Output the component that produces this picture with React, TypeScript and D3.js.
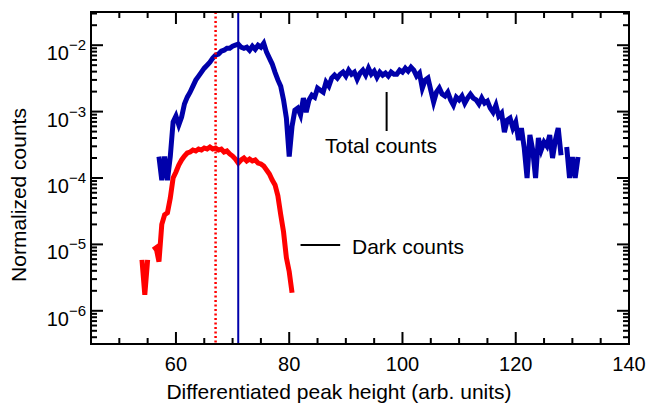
import * as d3 from "d3";

// histogram bins (arb. units), 0.5 wide
const binWidth = 0.5;
const totalStart = 57;
const darkStart = 54;

// normalized counts, null = empty bin
const totalCounts: (number | null)[] = [
  2.1e-4, 9.3e-5, 2.1e-4, 9.3e-5, 2.1e-4, 7.0e-4, 8.6e-4, 6.3e-4, 8.3e-4, 1.3e-3,
  1.65e-3, 1.96e-3, 2.42e-3, 2.98e-3, 3.42e-3, 3.93e-3, 4.51e-3, 5.0e-3, 5.55e-3, 6.38e-3,
  7.07e-3, 7.32e-3, 8.12e-3, 8.41e-3, 9.01e-3, 9.01e-3, 9.66e-3, 1.0e-2, 1.035e-2, 9.33e-3,
  9.0e-3, 9.33e-3, 8.4e-3, 9.66e-3, 8.7e-3, 1.0e-2, 9.33e-3, 1.07e-2, 7.85e-3, 6.4e-3,
  5.2e-3, 3.9e-3, 3.0e-3, 2.4e-3, 1.5e-3, 8.0e-4, 2.1e-4, 6.0e-4, 1.05e-3, 1.13e-3,
  8.9e-4, 1.6e-3, 9.8e-4, 1.5e-3, 1.77e-3, 1.65e-3, 2.26e-3, 2.1e-3, 1.96e-3, 2.78e-3,
  2.42e-3, 3.2e-3, 3.54e-3, 3.2e-3, 3.66e-3, 3.93e-3, 3.42e-3, 4.2e-3, 3.66e-3, 3.93e-3,
  3.08e-3, 3.8e-3, 4.2e-3, 3.54e-3, 4.5e-3, 3.66e-3, 4.07e-3, 3.3e-3, 3.93e-3, 3.54e-3,
  3.8e-3, 3.42e-3, 3.93e-3, 3.66e-3, 3.66e-3, 4.2e-3, 3.93e-3, 4.5e-3, 4.07e-3, 4.67e-3,
  4.2e-3, 3.42e-3, 3.8e-3, 2.26e-3, 2.98e-3, 3.2e-3, 2.1e-3, 1.39e-3, 1.96e-3, 2.26e-3,
  1.83e-3, 1.71e-3, 1.96e-3, 1.5e-3, 1.25e-3, 1.65e-3, 1.5e-3, 1.71e-3, 1.34e-3, 1.6e-3,
  1.83e-3, 1.6e-3, 1.5e-3, 1.3e-3, 1.6e-3, 1.34e-3, 1.44e-3, 1.13e-3, 9.8e-4, 1.25e-3,
  8.55e-4, 9.5e-4, 4.9e-4, 7.45e-4, 8.0e-4, 5.65e-4, 6.95e-4, 3.73e-4, 5.65e-4, 2.83e-4,
  1.0e-4, 4.44e-4, 2.64e-4, 1.0e-4, 4.0e-4, 2.64e-4, 3.48e-4, 3.03e-4, 4.44e-4, 2.0e-4,
  3.73e-4, 5.65e-4, 2.2e-4, null, 2.93e-4, 1.0e-4, 2.07e-4, 1.0e-4, 2.07e-4,
];

const darkCounts: (number | null)[] = [
  5.85e-6, 1.74e-6, 5.85e-6, null, 8.3e-6, 8.9e-6, 5.5e-6, 2.0e-5, 2.8e-5, 3.0e-5,
  5.0e-5, 1.0e-4, 1.23e-4, 1.57e-4, 1.87e-4, 2.14e-4, 2.38e-4, 2.46e-4, 2.64e-4, 2.55e-4,
  2.73e-4, 2.64e-4, 2.83e-4, 2.73e-4, 2.93e-4, 2.73e-4, 2.83e-4, 2.64e-4, 2.73e-4, 2.46e-4,
  2.55e-4, 2.3e-4, 2.14e-4, 1.93e-4, 1.68e-4, 1.87e-4, 2.0e-4, 1.8e-4, 1.93e-4, 1.8e-4,
  1.87e-4, 1.68e-4, 1.63e-4, 1.51e-4, 1.32e-4, 1.15e-4, 9.3e-5, 7.85e-5, 5.4e-5, 2.8e-5,
  1.54e-5, 6.3e-6, 3.9e-6, 1.87e-6,
];

const xMajorTicks = [60, 80, 100, 120, 140];
const yExponents = [-2, -3, -4, -5, -6];
const darkThreshold = 67; // dotted red line
const totalThreshold = 71; // solid blue line

const W = 647;
const H = 406;
const left = 91;
const right = 629;
const top = 12;
const bottom = 344;
const font = "'Liberation Sans', Arial, Helvetica, sans-serif";

export default function App() {
  const x = d3.scaleLinear().domain([45, 140]).range([left, right]);
  const y = d3.scaleLog().domain([Math.pow(10, -6.5), Math.pow(10, -1.5)]).range([bottom, top]);

  const toPoints = (vals: (number | null)[], start: number) =>
    vals.map((v, i) => ({ x: start + i * binWidth, v }));

  const line = d3
    .line<{ x: number; v: number | null }>()
    .defined((d) => d.v != null)
    .x((d) => x(d.x))
    .y((d) => y(d.v as number));

  const xMinor = d3.range(45, 141, 5).filter((t) => !xMajorTicks.includes(t));
  const yMinor: number[] = [];
  for (let e = -7; e <= -2; e++) {
    for (let m = 2; m <= 9; m++) {
      const v = m * Math.pow(10, e);
      if (v > y.domain()[0] && v < y.domain()[1]) yMinor.push(v);
    }
  }

  const ticks: JSX.Element[] = [];
  const addX = (t: number, len: number, k: string) => {
    ticks.push(<line key={"b" + k} x1={x(t)} x2={x(t)} y1={bottom} y2={bottom - len} />);
    ticks.push(<line key={"t" + k} x1={x(t)} x2={x(t)} y1={top} y2={top + len} />);
  };
  const addY = (v: number, len: number, k: string) => {
    ticks.push(<line key={"l" + k} x1={left} x2={left + len} y1={y(v)} y2={y(v)} />);
    ticks.push(<line key={"r" + k} x1={right} x2={right - len} y1={y(v)} y2={y(v)} />);
  };
  xMajorTicks.forEach((t) => addX(t, 12, "M" + t));
  xMinor.forEach((t) => addX(t, 6, "m" + t));
  yExponents.forEach((e) => addY(Math.pow(10, e), 12, "M" + e));
  yMinor.forEach((v, i) => addY(v, 6, "m" + i));

  return (
    <svg width={W} height={H} style={{ position: "absolute", left: 0, top: 0, background: "#fff" }} fontFamily={font}>
      <defs>
        <clipPath id="plot">
          <rect x={left} y={top} width={right - left} height={bottom - top} />
        </clipPath>
      </defs>
      <g clipPath="url(#plot)" fill="none">
        <path d={line(toPoints(totalCounts, totalStart)) || ""} stroke="#0000aa" strokeWidth={5} />
        <path d={line(toPoints(darkCounts, darkStart)) || ""} stroke="#ff0000" strokeWidth={5} />
        <line x1={x(darkThreshold)} x2={x(darkThreshold)} y1={top} y2={bottom} stroke="#ff0000" strokeWidth={2.5} strokeDasharray="2 2.5" />
        <line x1={x(totalThreshold)} x2={x(totalThreshold)} y1={top} y2={bottom} stroke="#0000aa" strokeWidth={2} />
      </g>
      <g stroke="#000" strokeWidth={2}>{ticks}</g>
      <rect x={left} y={top} width={right - left} height={bottom - top} fill="none" stroke="#000" strokeWidth={2} />
      {xMajorTicks.map((t) => (
        <text key={t} x={x(t)} y={371} fontSize={20} textAnchor="middle">{t}</text>
      ))}
      {yExponents.map((e) => (
        <text key={e} x={86} y={y(Math.pow(10, e)) + 15} fontSize={20} textAnchor="end">
          10<tspan dy={-10} fontSize={15}>{"\u2212" + Math.abs(e)}</tspan>
        </text>
      ))}
      <text x={(left + right) / 2 - 21} y={399} fontSize={21} textAnchor="middle">
        Differentiated peak height (arb. units)
      </text>
      <text transform="translate(26,195) rotate(-90)" fontSize={21} textAnchor="middle">
        Normalized counts
      </text>
      <line x1={x(97.2)} x2={x(97.2)} y1={92} y2={131} stroke="#000" strokeWidth={2} />
      <text x={381} y={153} fontSize={21} textAnchor="middle">Total counts</text>
      <line x1={x(82)} x2={x(89)} y1={245} y2={245} stroke="#000" strokeWidth={2} />
      <text x={352} y={254} fontSize={21}>Dark counts</text>
    </svg>
  );
}
